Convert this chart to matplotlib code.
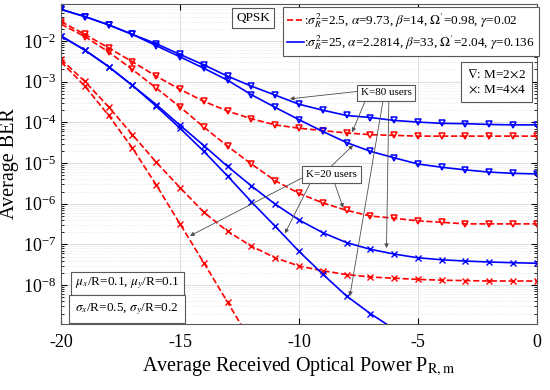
import numpy as np
import matplotlib
matplotlib.use('Agg')
import matplotlib.pyplot as plt
from matplotlib.lines import Line2D
from matplotlib.ticker import LogLocator, NullFormatter

plt.rcParams['font.family'] = ['Liberation Serif', 'DejaVu Serif']
plt.rcParams['mathtext.fontset'] = 'stix'

# received optical power (dBm)
p_r = np.arange(-20, 1)

# BER, sigma_R^2 = 2.5 (red, dashed)
red_tri_k80 = [3.0e-2, 1.46e-2, 6.8e-3, 3.1e-3, 1.37e-3, 6.5e-4, 3.3e-4, 1.9e-4, 1.23e-4, 8.7e-5,
               7.2e-5, 6.3e-5, 5.5e-5, 5.0e-5, 4.8e-5, 4.6e-5, 4.6e-5, 4.6e-5, 4.6e-5, 4.6e-5, 4.6e-5]
red_tri_k20 = [2.6e-2, 1.29e-2, 5.4e-3, 2.0e-3, 7.0e-4, 2.4e-4, 7.7e-5, 2.6e-5, 9.5e-6, 3.7e-6,
               1.8e-6, 1.05e-6, 6.9e-7, 5.0e-7, 4.4e-7, 3.8e-7, 3.5e-7, 3.2e-7, 3.2e-7, 3.2e-7, 3.2e-7]
red_x_k80 = [3.55e-3, 1.02e-3, 2.4e-4, 5.0e-5, 1.05e-5, 2.5e-6, 6.2e-7, 2.1e-7, 9.1e-8, 4.7e-8,
             2.95e-8, 2.25e-8, 1.82e-8, 1.58e-8, 1.48e-8, 1.38e-8, 1.32e-8, 1.29e-8, 1.26e-8, 1.26e-8, 1.26e-8]
red_x_k20 = [3.1e-3, 7.8e-4, 1.48e-4, 2.35e-5, 2.9e-6, 3.2e-7, 3.55e-8, 3.8e-9, 4.0e-10] + [np.nan] * 12

# sigma_R^2 = 25 (blue, solid)
blue_tri_k80 = [6.0e-2, 4.0e-2, 2.5e-2, 1.46e-2, 8.6e-3, 4.7e-3, 2.6e-3, 1.37e-3, 7.8e-4, 4.7e-4,
                2.8e-4, 2.0e-4, 1.48e-4, 1.32e-4, 1.12e-4, 1.02e-4, 9.5e-5, 9.3e-5, 8.9e-5, 8.7e-5, 8.7e-5]
blue_tri_k20 = [6.0e-2, 4.0e-2, 2.5e-2, 1.46e-2, 7.7e-3, 4.1e-3, 2.15e-3, 1.09e-3, 4.8e-4, 2.35e-4,
                1.17e-4, 6.0e-5, 3.2e-5, 1.95e-5, 1.35e-5, 9.5e-6, 7.9e-6, 6.8e-6, 6.0e-6, 5.6e-6, 5.4e-6]
blue_x_k80 = [1.33e-2, 6.0e-3, 2.35e-3, 8.1e-4, 2.75e-4, 8.5e-5, 2.7e-5, 8.3e-6, 2.75e-6, 9.8e-7,
              4.0e-7, 1.95e-7, 1.11e-7, 7.6e-8, 5.8e-8, 4.7e-8, 4.2e-8, 3.9e-8, 3.7e-8, 3.55e-8, 3.45e-8]
blue_x_k20 = [1.33e-2, 6.0e-3, 2.35e-3, 8.1e-4, 2.5e-4, 7.2e-5, 1.95e-5, 4.8e-6, 1.12e-6, 2.8e-7,
              6.8e-8, 1.86e-8, 5.4e-9, 2.0e-9, 8.3e-10] + [np.nan] * 6

legend_labels = [r':$\sigma_R^2$=2.5, $\alpha$=9.73, $\beta$=14, $\Omega^{\prime}$=0.98, $\gamma$=0.02',
                 r':$\sigma_R^2$=25, $\alpha$=2.2814, $\beta$=33, $\Omega^{\prime}$=2.04, $\gamma$=0.136']

fig = plt.figure(figsize=(5.5, 3.9), dpi=100)
ax = fig.add_axes([0.111, 0.169, 0.865, 0.821])

ms = 5
for y in [red_tri_k80, red_tri_k20]:
    ax.plot(p_r, y, 'r--', lw=1.2, marker='v', ms=ms, mfc='none', mew=1.1)
for y in [red_x_k80, red_x_k20]:
    ax.plot(p_r, y, 'r--', lw=1.2, marker='x', ms=ms, mew=1.0)
for y in [blue_tri_k80, blue_tri_k20]:
    ax.plot(p_r, y, 'b-', lw=1.2, marker='v', ms=ms, mfc='none', mew=1.1)
for y in [blue_x_k80, blue_x_k20]:
    ax.plot(p_r, y, 'b-', lw=1.2, marker='x', ms=ms, mew=1.0)

ax.set_yscale('log')
ax.set_xlim(-20, 0)
ax.set_ylim(1.1e-9, 8.2e-2)
ax.set_xticks([-20, -15, -10, -5, 0])
ax.set_xticklabels(['-20', '-15', '-10', '-5', '0'])
ax.yaxis.set_major_locator(LogLocator(base=10, numticks=20))
ax.yaxis.set_minor_locator(LogLocator(base=10, subs=np.arange(2, 10), numticks=100))
ax.yaxis.set_minor_formatter(NullFormatter())
ax.tick_params(which='both', direction='in', top=True, right=True, labelsize=13)
ax.tick_params(axis='x', pad=7)
ax.tick_params(which='major', length=4)
ax.tick_params(which='minor', length=2)
ax.grid(True, which='major', color='0.85', lw=0.6)
ax.grid(True, which='minor', axis='y', color='0.88', lw=0.5, ls=':')
for s in ax.spines.values():
    s.set_color('0.35')
    s.set_linewidth(0.8)

ax.set_xlabel(r'Average Received Optical Power P$_{\mathrm{R,m}}$', fontsize=14.5, labelpad=3)
ax.set_ylabel('Average BER', fontsize=14.5, labelpad=3)

handles = [Line2D([], [], color='r', ls='--', lw=1.2),
           Line2D([], [], color='b', ls='-', lw=1.2)]
leg = ax.legend(handles, legend_labels, loc='upper right', bbox_to_anchor=(1.004, 0.99),
                fontsize=9.5, handlelength=1.3, handletextpad=0.0, borderpad=0.3,
                labelspacing=0.3, fancybox=False, framealpha=1, borderaxespad=0)
leg.get_frame().set_edgecolor('0.35')
leg.get_frame().set_linewidth(0.8)

box = dict(boxstyle='square,pad=0.3', fc='white', ec='0.35', lw=0.8)
ax.text(0.404, 0.955, 'QPSK', transform=ax.transAxes, ha='center', va='center', fontsize=9.5, bbox=box)
ax.text(0.916, 0.756, '$\\nabla$: M=2$\\times$2\n$\\times$: M=4$\\times$4', transform=ax.transAxes,
        ha='center', va='center', fontsize=9.5, linespacing=1.4,
        bbox=dict(boxstyle='square,pad=0.45', fc='white', ec='0.35', lw=0.8))
ax.text(0.139, 0.127, r'$\mu_x$/R=0.1, $\mu_y$/R=0.1', transform=ax.transAxes, ha='center', va='center',
        fontsize=9.5, bbox=box)
ax.text(0.139, 0.047, r'$\sigma_x$/R=0.5, $\sigma_y$/R=0.2', transform=ax.transAxes, ha='center', va='center',
        fontsize=9.5, bbox=dict(boxstyle='square,pad=0.45', fc='white', ec='0.35', lw=0.8))

arrow = dict(arrowstyle='-|>', color='0.3', lw=0.6, mutation_scale=6, shrinkA=0, shrinkB=0)
# K=80 arrows: (start, end) in (dBm, log10 BER)
k80_arrows = [((-7.56, -3.24), (-10.38, -3.42)), ((-7.23, -3.49), (-7.76, -4.24)),
              ((-6.22, -3.49), (-6.32, -7.09)), ((-6.47, -3.49), (-7.86, -8.27))]
k20_arrows = [((-8.70, -5.11), (-7.72, -4.56)), ((-9.75, -5.33), (-14.58, -6.79)),
              ((-9.54, -5.51), (-10.59, -6.73)), ((-8.49, -5.51), (-8.14, -6.10))]
for (x0, y0), (x1, y1) in k80_arrows + k20_arrows:
    ax.annotate('', xy=(x1, 10 ** y1), xytext=(x0, 10 ** y0), arrowprops=arrow)

ax.text(0.683, 0.722, 'K=80 users', transform=ax.transAxes, ha='center', va='center', fontsize=8,
        bbox=dict(boxstyle='square,pad=0.35', fc='white', ec='0.35', lw=0.8), zorder=5)
ax.text(0.568, 0.466, 'K=20 users', transform=ax.transAxes, ha='center', va='center', fontsize=8,
        bbox=dict(boxstyle='square,pad=0.35', fc='white', ec='0.35', lw=0.8), zorder=5)

fig.savefig('out.png', dpi=100)
